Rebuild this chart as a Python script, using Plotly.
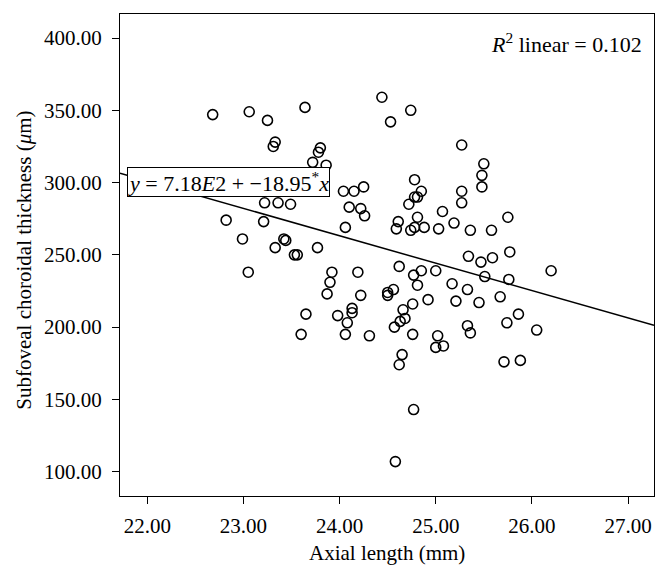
import plotly.graph_objects as go

# Axial length (mm)
axial_length = [
    22.68, 23.06, 23.25, 23.64, 23.33, 23.31, 23.80, 23.78, 23.72, 23.86,
    24.44, 24.74, 24.53, 25.27, 25.50, 25.48, 25.48, 24.78, 24.85, 24.78,
    24.81, 24.72, 25.27, 25.27, 24.04, 24.15, 24.25, 24.10, 24.22, 24.26,
    23.22, 23.36, 23.49, 22.82, 23.21, 22.99, 23.42, 23.44, 23.33, 23.77,
    23.53, 23.56, 23.05, 24.06, 24.61, 24.59, 24.74, 24.81, 24.78, 24.88,
    25.07, 25.19, 25.03, 25.36, 25.58, 25.75, 25.34, 25.47, 25.59, 25.77,
    25.51, 25.76, 26.20, 24.62, 24.77, 24.85, 25.00, 25.17, 25.33, 25.67,
    25.21, 25.45, 24.92, 24.81, 24.76, 24.56, 24.50, 24.50, 24.66, 24.68,
    24.63, 24.57, 24.76, 25.02, 25.00, 25.08, 25.33, 25.36, 25.74, 25.86,
    26.05, 25.71, 25.88, 24.65, 24.62, 24.77, 24.58, 23.92, 23.90, 23.87,
    24.19, 24.22, 24.13, 24.13, 23.98, 24.08, 24.06, 24.31, 23.65, 23.60,
]
# Subfoveal choroidal thickness (um)
choroidal_thickness = [
    347, 349, 343, 352, 328, 325, 324, 321, 314, 312,
    359, 350, 342, 326, 313, 305, 297, 302, 294, 290,
    290, 285, 294, 286, 294, 294, 297, 283, 282, 277,
    286, 286, 285, 274, 273, 261, 261, 260, 255, 255,
    250, 250, 238, 269, 273, 268, 267, 276, 269, 269,
    280, 272, 268, 267, 267, 276, 249, 245, 248, 252,
    235, 233, 239, 242, 236, 239, 239, 230, 226, 221,
    218, 217, 219, 229, 216, 226, 224, 222, 212, 206,
    204, 200, 195, 194, 186, 187, 201, 196, 203, 209,
    198, 176, 177, 181, 174, 143, 107, 238, 231, 223,
    238, 222, 213, 210, 208, 203, 195, 194, 209, 195,
]

# Linear fit reported in the chart
intercept = 718.0
slope = -18.95
r_squared = 0.102

x_range = [21.716, 27.27]
y_range = [83.2, 416.6]
x_ticks = [22, 23, 24, 25, 26, 27]
y_ticks = [100, 150, 200, 250, 300, 350, 400]

x_title = "Axial length (mm)"
y_title = "Subfoveal choroidal thickness (<i>μ</i>m)"

FONT = "Liberation Serif, Times New Roman, serif"
FS = 21

fig = go.Figure()

fig.add_trace(go.Scatter(
    x=x_range,
    y=[intercept + slope * v for v in x_range],
    mode="lines",
    line=dict(color="black", width=1.5),
    showlegend=False,
    hoverinfo="skip",
))

fig.add_trace(go.Scatter(
    x=axial_length,
    y=choroidal_thickness,
    mode="markers",
    marker=dict(symbol="circle-open", size=10, color="black",
                line=dict(width=1.6, color="black")),
    showlegend=False,
))

fig.update_layout(
    width=661, height=569,
    margin=dict(l=112, r=15, t=6, b=81, autoexpand=False),
    paper_bgcolor="white",
    plot_bgcolor="white",
    font=dict(family=FONT, size=FS, color="black"),
    xaxis=dict(
        range=x_range, tickvals=x_ticks, tickformat=".2f",
        showline=True, linecolor="black", linewidth=1, mirror=True,
        ticks="outside", ticklen=7, tickcolor="black", tickwidth=1,
        showgrid=False, zeroline=False, automargin=False,
        ticklabelstandoff=4,
    ),
    yaxis=dict(
        range=y_range, tickvals=y_ticks, tickformat=".2f",
        showline=True, linecolor="black", linewidth=1, mirror=True,
        ticks="outside", ticklen=7, tickcolor="black", tickwidth=1,
        showgrid=False, zeroline=False, automargin=False,
        ticklabelstandoff=6,
    ),
    annotations=[
        dict(
            text=x_title, xref="paper", yref="paper",
            x=0.5, y=-0.119, xanchor="center", yanchor="middle",
            showarrow=False, font=dict(family=FONT, size=FS),
        ),
        dict(
            text=y_title, xref="paper", yref="paper", textangle=-90,
            x=-0.18, y=0.49, xanchor="center", yanchor="middle",
            showarrow=False, font=dict(family=FONT, size=FS),
        ),
        dict(
            text="<i>R</i><sup>2</sup> linear = %.3f" % r_squared,
            xref="paper", yref="paper", x=0.981, y=0.94,
            xanchor="right", yanchor="middle", showarrow=False,
            font=dict(family=FONT, size=22, color="black"),
        ),
        dict(
            text="<i>y</i> = 7.18<i>E</i>2 + −18.95<sup>*</sup><i>x</i>",
            xref="paper", yref="paper", x=0.013, y=0.651,
            xanchor="left", yanchor="middle", showarrow=False,
            bgcolor="white", bordercolor="black", borderwidth=1, borderpad=0,
            font=dict(family=FONT, size=22, color="black"),
        ),
    ],
)

fig.write_html("out.html")
